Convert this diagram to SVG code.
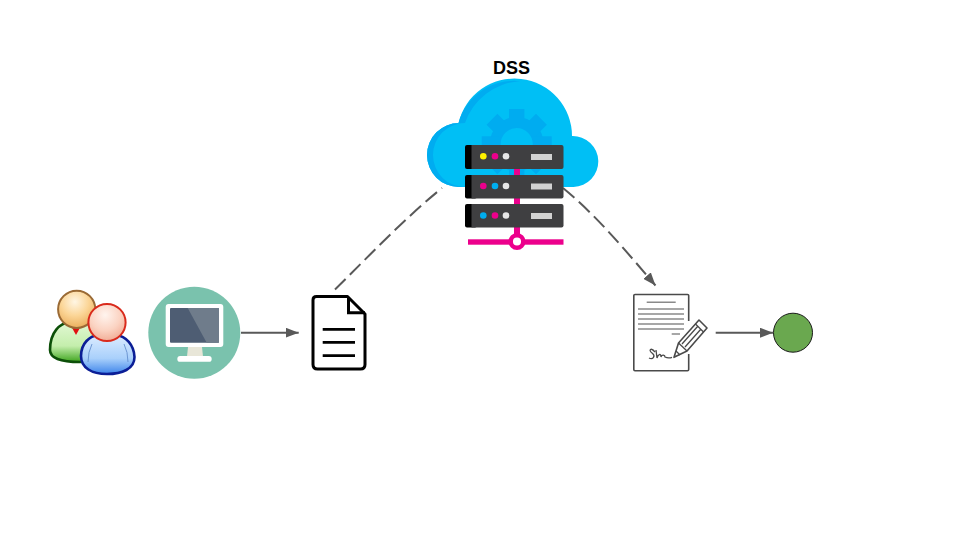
<svg xmlns="http://www.w3.org/2000/svg" width="960" height="540" viewBox="0 0 960 540">
<style>
.flow{fill:none;stroke:#595959;stroke-width:2}
.dash{stroke-dasharray:15 6}
.line{fill:none;stroke:#000;stroke-width:2.800}
.pen{fill:none;stroke:#4a4a4a;stroke-width:1.300}
.rule{fill:none;stroke:#8a8a8a;stroke-width:1.500}
.rack{fill:#3f3f41}
.cap{fill:#000}
.slot{fill:#d2d2d2}
.pink{fill:#ec008c}
.cyan{fill:#00aeef}
.gray{fill:#e6e6e6}
.yellow{fill:#fff200}
</style>
<defs>
<marker id="arrow" viewBox="0 0 13 10" refX="13" refY="5" markerUnits="userSpaceOnUse" markerWidth="13" markerHeight="10" orient="auto"><path d="M0 0L13 5L0 10Z" fill="#595959"/></marker>
<radialGradient id="hO" cx=".45" cy=".3" r=".75"><stop offset="0" stop-color="#fff6e4"/><stop offset=".5" stop-color="#fbd596"/><stop offset="1" stop-color="#e8a955"/></radialGradient>
<radialGradient id="hR" cx=".45" cy=".3" r=".75"><stop offset="0" stop-color="#fff4ee"/><stop offset=".55" stop-color="#fbd3c2"/><stop offset="1" stop-color="#f0a78f"/></radialGradient>
<linearGradient id="bG" x1="0" y1="0" x2="0" y2="1"><stop offset="0" stop-color="#e2f8d4"/><stop offset=".6" stop-color="#c4eeac"/><stop offset="1" stop-color="#3fa51f"/></linearGradient>
<linearGradient id="bB" x1="0" y1="0" x2="0" y2="1"><stop offset="0" stop-color="#dcecff"/><stop offset=".6" stop-color="#a9d0fb"/><stop offset="1" stop-color="#3d84ea"/></linearGradient>
</defs>
<rect width="960" height="540" fill="#fff"/>

<g id="connectors">
<path class="flow" d="M241 332.700H298.700" marker-end="url(#arrow)"/>
<path class="flow dash" d="M335 289.500C370 255 405 218 442 188"/>
<path class="flow dash" d="M563 188C597 216 625 250 655.500 285.500" marker-end="url(#arrow)"/>
<path class="flow" d="M715.700 332.700H773" marker-end="url(#arrow)"/>
</g>

<g id="users">
<path d="M50 350C50 332 60 323 70 322Q77 330 84 322C100 323 111 335 111 350C111 358 100 362 80 362C60 362 50 358 50 350Z" fill="url(#bG)" stroke="#0c4f08" stroke-width="2.600"/>
<path d="M70 322L76 335L83 322Z" fill="#fff" opacity=".6"/>
<path d="M71 326L76 335L81 326Z" fill="#e01010"/>
<circle cx="76.700" cy="309.300" r="18.600" fill="url(#hO)" stroke="#9a6a35" stroke-width="2"/>
<path d="M81 356C81 343 90 336 98 335Q107 344 116 335C126 336 134 345 134.500 357C134.500 369 122 374 107 374C92 374 81 368 81 356Z" fill="url(#bB)" stroke="#0b1e96" stroke-width="2.600"/>
<path d="M92 344Q88 352 88 362M124 344Q128 352 128 362" fill="none" stroke="#5b86c8" stroke-width=".8"/>
<circle cx="107" cy="322.500" r="18.600" fill="url(#hR)" stroke="#d92a1c" stroke-width="2"/>
</g>

<g id="computer">
<circle cx="194.300" cy="332.800" r="46" fill="#7ac2ad"/>
<rect x="165.700" y="304" width="57.600" height="43" rx="3" fill="#fff"/>
<rect x="170" y="308" width="49" height="34.800" rx="1" fill="#4e5d73"/>
<path d="M187.700 308H218A1 1 0 0 1 219 309V342.800H206.700Z" fill="#6f7c8b"/>
<path d="M188 347H202L203 356.500H187Z" fill="#e8e6d8"/>
<rect x="177.300" y="356" width="34.400" height="5.800" rx="2.900" fill="#fff"/>
</g>

<g id="document">
<path d="M316.500 296.500H347.500L365 314V364.500Q365 369 360.500 369H317.500Q313 369 313 364.500V300Q313 296.500 316.500 296.500Z" fill="#fff" stroke="#000" stroke-width="3" stroke-linejoin="round"/>
<path d="M348.500 297V312.700H365" fill="none" stroke="#000" stroke-width="3"/>
<path class="line" d="M322.700 329.300H355M322.700 342.300H355M322.700 355.700H355"/>
</g>

<g id="dss">
<text x="511.500" y="74" font-family="'Liberation Sans',Arial,sans-serif" font-size="18" font-weight="700" text-anchor="middle" fill="#000">DSS</text>
<path d="M459 187A32 32 0 0 1 459 123H458.500A57.500 57.500 0 0 1 572 136A25.500 25.500 0 1 1 573.500 187Z" fill="#00bff5"/>
<path d="M459 187A32 32 0 0 1 459 123H465A32 32 0 0 0 465 187ZM458.500 123A57.500 57.500 0 0 1 520 81.200A62 62 0 0 0 465 123Z" fill="#00acf0"/>
<g fill="#00acf0">
<circle cx="516.700" cy="144" r="27"/>
<rect x="509" y="109" width="15.400" height="70"/>
<rect x="509" y="109" width="15.400" height="70" transform="rotate(45 516.700 144)"/>
<rect x="509" y="109" width="15.400" height="70" transform="rotate(90 516.700 144)"/>
<rect x="509" y="109" width="15.400" height="70" transform="rotate(135 516.700 144)"/>
</g>
<circle cx="516.700" cy="144" r="16" fill="#00bff5"/>
<rect class="pink" x="514" y="165" width="6" height="76"/>
<rect class="pink" x="468" y="239.300" width="95.500" height="5.400"/>
<circle cx="517" cy="241.500" r="6.300" fill="#fff" stroke="#ec008c" stroke-width="4.500"/>
<g id="rack1">
<rect class="cap" x="465" y="145" width="12" height="24" rx="2"/>
<path class="rack" d="M471.500 145H561.500Q563.500 145 563.500 147V167Q563.500 169 561.500 169H471.500Z"/>
<circle class="yellow" cx="483.300" cy="156.300" r="3.300"/><circle class="pink" cx="495" cy="156.300" r="3.300"/><circle class="gray" cx="506" cy="156.300" r="3.300"/>
<rect class="slot" x="531" y="154" width="21" height="6"/>
</g>
<g id="rack2">
<rect class="cap" x="465" y="175" width="12" height="23.500" rx="2"/>
<path class="rack" d="M471.500 175H561.500Q563.500 175 563.500 177V196.500Q563.500 198.500 561.500 198.500H471.500Z"/>
<circle class="pink" cx="483.300" cy="186" r="3.300"/><circle class="cyan" cx="495" cy="186" r="3.300"/><circle class="gray" cx="506" cy="186" r="3.300"/>
<rect class="slot" x="531" y="183.500" width="21" height="6"/>
</g>
<g id="rack3">
<rect class="cap" x="465" y="204" width="12" height="23.500" rx="2"/>
<path class="rack" d="M471.500 204H561.500Q563.500 204 563.500 206V225.500Q563.500 227.500 561.500 227.500H471.500Z"/>
<circle class="cyan" cx="483.300" cy="215.500" r="3.300"/><circle class="pink" cx="495" cy="215.500" r="3.300"/><circle class="gray" cx="506" cy="215.500" r="3.300"/>
<rect class="slot" x="531" y="213" width="21" height="6"/>
</g>
</g>

<g id="signed-contract">
<path d="M688.700 321V295.500Q688.700 294.500 687.500 294.500H635Q633.800 294.500 633.800 295.500V369.500Q633.800 370.700 635 370.700H687.500Q688.700 370.700 688.700 369.500V354" fill="#fff" stroke="#4a4a4a" stroke-width="1.600"/>
<path class="rule" d="M646.700 302.300H675.700M638 309H684M638 314H684M638 319H684M638 324H684M638 329H684M671.700 334H680"/>
<path d="M674 357.300L678.500 343L699 320L707 328L687 351Z" fill="#fff" stroke="#4a4a4a" stroke-width="1.600" stroke-linejoin="round"/>
<path class="pen" d="M678.500 343L687 351M695.500 324L703.500 332M682 344L698 326M685 347L701 329M676 351L680 355"/>
<path class="pen" d="M655 352C651 347 648 350 652 353C656 356 653 360 649 358M656 350L657 358C658 354 661 353 661 357C662 354 665 355 665 357C667 358 670 358 672 357.300"/>
</g>

<g id="end">
<circle cx="793" cy="332.700" r="19.500" fill="#6aa84f" stroke="#1a1a1a" stroke-width="1"/>
</g>
</svg>
